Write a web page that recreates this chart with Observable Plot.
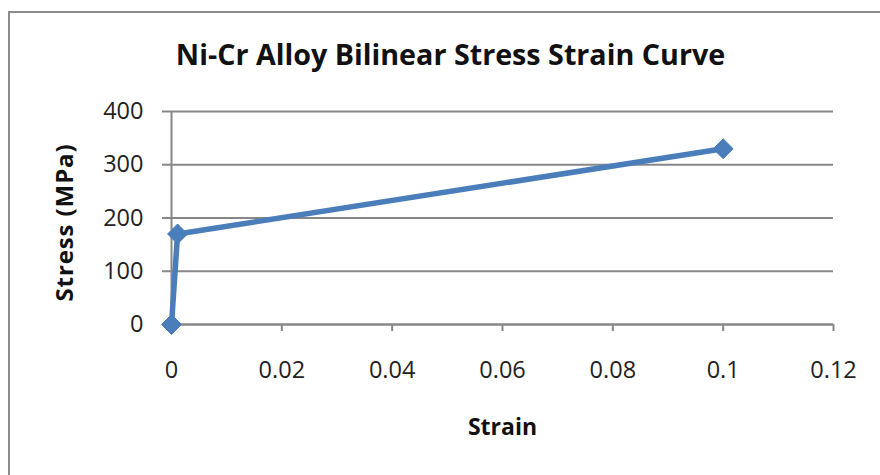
<!DOCTYPE html>
<html>
<head>
<meta charset="utf-8">
<script src="https://cdn.jsdelivr.net/npm/d3@7"></script>
<script src="https://cdn.jsdelivr.net/npm/@observablehq/plot@0.6"></script>
<style>
  html, body { margin: 0; padding: 0; background: #fff; }
  #wrap { position: relative; width: 880px; height: 475px; overflow: hidden; }
  #border { position: absolute; left: 8px; top: 11px; width: 900px; height: 500px;
            border-left: 2px solid #8c8c8c; border-top: 2px solid #8c8c8c; }
  #chart { position: absolute; left: 0; top: 0; }
</style>
</head>
<body>
<div id="wrap"><div id="border"></div><div id="chart"></div></div>
<script>
const strain = [0, 0.0011, 0.1];
const stress = [0, 170, 330];
const xTicks = [0, 0.02, 0.04, 0.06, 0.08, 0.1, 0.12];
const yTicks = [0, 100, 200, 300, 400];
const title = "Ni-Cr Alloy Bilinear Stress Strain Curve";
const xLabel = "Strain";
const yLabel = "Stress (MPa)";

const data = strain.map((s, i) => ({strain: s, stress: stress[i]}));
const blue = "#4a7ebb";
const grid = "#878787";
const font = "'Open Sans', sans-serif";

const plot = Plot.plot({
  width: 880,
  height: 475,
  marginLeft: 171,
  marginRight: 47,
  marginTop: 111,
  marginBottom: 151,
  style: {fontFamily: font, background: "transparent", overflow: "visible"},
  x: {domain: [0, 0.12]},
  y: {domain: [0, 400]},
  marks: [
    Plot.gridY(yTicks, {stroke: grid, strokeOpacity: 1, strokeWidth: 2}),
    Plot.ruleY([0], {stroke: grid, strokeWidth: 2}),
    Plot.ruleX([0], {stroke: grid, strokeWidth: 2}),
    Plot.axisY({ticks: yTicks, tickSize: 9, tickPadding: 19, stroke: grid, strokeWidth: 2,
                fontSize: 23.5, fill: "#222", label: null, tickFormat: d => String(d)}),
    Plot.axisX({ticks: xTicks, tickSize: 7, tickPadding: 30, stroke: grid, strokeWidth: 2,
                fontSize: 23.5, fill: "#222", label: null, tickFormat: d => String(d)}),
    Plot.line(data, {x: "strain", y: "stress", stroke: blue, strokeWidth: 5.5, strokeLinejoin: "round"}),
    Plot.dot(data, {x: "strain", y: "stress", symbol: "diamond2", r: 9, fill: blue, stroke: blue, strokeWidth: 1}),
    Plot.text([title], {frameAnchor: "top", lineAnchor: "middle", dx: -52, dy: -56, fontSize: 28.7, fontWeight: "bold", fill: "#111"}),
    Plot.text([xLabel], {frameAnchor: "bottom", lineAnchor: "middle", dy: 103, fontSize: 23, fontWeight: "bold", fill: "#111"}),
    Plot.text([yLabel], {frameAnchor: "left", textAnchor: "middle", lineAnchor: "middle", dx: -106, dy: 4.5, rotate: -90, fontSize: 24, fontWeight: "bold", fill: "#111"})
  ]
});
d3.select(plot).selectAll("text").filter(function() { return this.textContent === yLabel; })
  .style("letter-spacing", "0.9px");
document.getElementById("chart").appendChild(plot);
</script>
</body>
</html>
